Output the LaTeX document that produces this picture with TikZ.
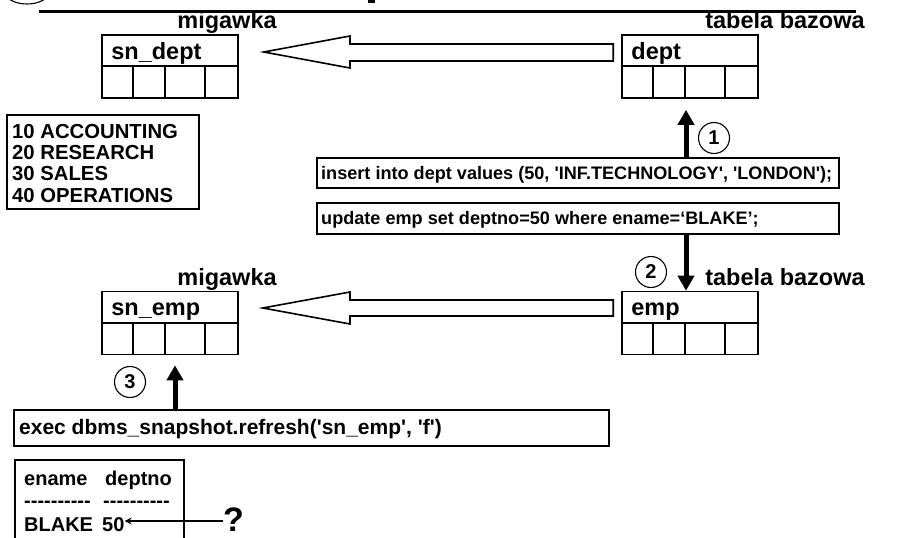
\documentclass[tikz,border=0pt]{standalone}
\usepackage{fontspec}
\setmainfont{Liberation Sans}[Ligatures=TeXOff]
\usetikzlibrary{calc,arrows.meta}

% a table: header row with the name, four empty cells below
\newcommand\dbtab[3]{%
  \node[tbl] (#1) at (#2) {};
  \draw[thin line] ($(#1.north west)+(0,32)$) -- ($(#1.north east)+(0,32)$);
  \foreach \cx in {32,64,104}
    \draw[thin line] ($(#1.north west)+(\cx,32)$) -- ($(#1.south west)+(\cx,0)$);
  \node[tname] (#1-name) at ($(#1.north west)+(10,25)$) {#3};
}

\begin{document}
\begin{tikzpicture}[x=1pt,y=-1pt,
  font=\bfseries,
  thin line/.style={line width=1.6pt},
  tbl/.style={draw,line width=1.6pt,minimum width=136pt,minimum height=63pt,inner sep=0pt},
  tname/.style={anchor=base west,inner sep=0pt,font=\bfseries\fontsize{23.5}{24}\selectfont},
  lbl/.style={anchor=base,inner sep=0pt,font=\bfseries\fontsize{23.5}{24}\selectfont},
  sqlbox/.style={draw,line width=1.6pt,anchor=north west,inner sep=0pt},
  num/.style={circle,draw,line width=1.1pt,minimum size=31pt,inner sep=0pt,font=\bfseries\fontsize{20}{20}\selectfont},
  bigarrow/.style={line width=5pt,-{Triangle[length=15pt,width=16pt]}},
  hollow/.style={draw,line width=1.6pt,fill=white,line join=miter},
  restext/.style={anchor=base west,inner sep=0pt,font=\bfseries\fontsize{20}{20}\selectfont},
]
\useasboundingbox (0,0) rectangle (908,538);
\clip (0,0) rectangle (908,538);

% title remnants at the top edge
\draw[line width=1.1pt] (27,-8) ellipse [x radius=22, y radius=12];
\fill (368,-2) rectangle (375,3);
\draw[line width=2.8pt] (39,11.5) -- (856,11.5);

% tables
\dbtab{sndept}{170,66.5}{sn\_dept}
\dbtab{dept}{690,66.5}{dept}
\dbtab{snemp}{170,323}{sn\_emp}
\dbtab{emp}{690,323}{emp}

% labels above the tables
\node[lbl] (lab1) at (227,28) {migawka};
\node[lbl] (lab2) at (785,28) {tabela bazowa};
\node[lbl] (lab3) at (227,285) {migawka};
\node[lbl] (lab4) at (785,285) {tabela bazowa};

% hollow block arrows from base table to snapshot
\draw[hollow] ($(dept.west)+(-8,-22.5)$) -- (350,44) -- (350,36) -- ($(sndept.east)+(25,-14.5)$)
  -- (350,68) -- (350,61) -- ($(dept.west)+(-8,-5.5)$) -- cycle;
\draw[hollow] ($(emp.west)+(-8,-23)$) -- (350,300) -- (350,292) -- ($(snemp.east)+(24,-15)$)
  -- (350,324) -- (350,316) -- ($(emp.west)+(-8,-7)$) -- cycle;

% contents of dept
\node[draw,line width=1.6pt,anchor=north west,minimum width=192pt,minimum height=94pt,
      inner sep=0pt] (rows) at (6,114) {};
\node[anchor=north west,align=left,inner sep=0pt,
      font=\bfseries\fontsize{20.3}{21.3}\selectfont] (rowtext) at (12,124)
  {10 ACCOUNTING\\20 RESEARCH\\30 SALES\\40 OPERATIONS};

% statements
\node[sqlbox,minimum width=522pt,minimum height=30pt] (ins) at (316,157) {};
\node[anchor=base west,inner sep=0pt,font=\bfseries\fontsize{18.1}{20}\selectfont] (instext)
  at ($(ins.north west)+(5,22)$) {insert into dept values (50, 'INF.TECHNOLOGY', 'LONDON');};
\node[sqlbox,minimum width=522pt,minimum height=31pt] (upd) at (316,202) {};
\node[anchor=base west,inner sep=0pt,font=\bfseries\fontsize{18.1}{20}\selectfont] (updtext)
  at ($(upd.north west)+(5,22)$) {update emp set deptno=50 where ename=‘BLAKE’;};
\node[sqlbox,minimum width=595pt,minimum height=36pt] (exec) at (13,409) {};
\node[anchor=base west,inner sep=0pt,font=\bfseries\fontsize{21}{22}\selectfont] (exectext)
  at ($(exec.north west)+(6,25)$) {exec dbms\_snapshot.refresh('sn\_emp', 'f')};

% step arrows and numbers
\coordinate (a1) at (dept.south -| 686,0);
\draw[bigarrow] (ins.north -| a1) -- ($(a1)+(0,11)$);
\node[num] (n1) at (714,138) {1};
\draw[bigarrow] (upd.south -| a1) -- (emp.north -| a1);
\node[num] (n2) at (651,272) {2};
\coordinate (a3) at (snemp.south -| 175,0);
\draw[bigarrow] (exec.north -| a3) -- ($(a3)+(0,10)$);
\node[num] (n3) at (130,382) {3};

% query result
\node[draw,line width=1.6pt,anchor=north west,minimum width=169pt,minimum height=100pt,
      inner sep=0pt] (res) at (14,459) {};
\node[restext] (h1) at (24,485) {ename};
\node[restext] (h2) at (105,485) {deptno};
\node[restext] (d1) at (24,507) {----------};
\node[restext] (d2) at (103,507) {----------};
\node[restext] (blake) at (24,531) {BLAKE};
\node[restext] (fifty) at (102,531) {50};
\node[anchor=base west,inner sep=0pt,font=\bfseries\fontsize{34}{34}\selectfont] (q) at (223,531) {?};
\draw[line width=1.5pt,-{Stealth[length=7pt,width=7pt]}] (q.west |- 0,521) -- (fifty.east |- 0,521);
\end{tikzpicture}
\end{document}
